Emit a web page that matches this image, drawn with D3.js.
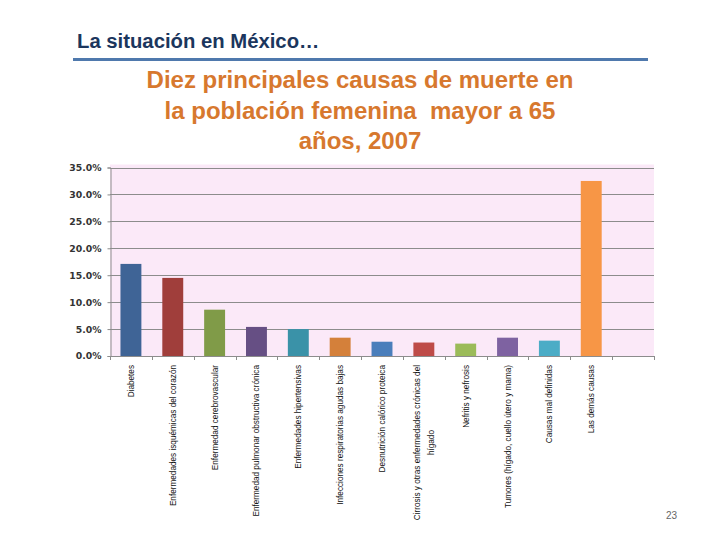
<!DOCTYPE html>
<html>
<head>
<meta charset="utf-8">
<script src="https://cdn.jsdelivr.net/npm/d3@7"></script>
<style>
  html, body { margin: 0; padding: 0; background: #ffffff; }
  svg { display: block; }
</style>
</head>
<body>
<svg id="chart" width="720" height="540"></svg>
<script>
// ---- data ----
const categories = [
  "Diabetes",
  "Enfermedades isquémicas del corazón",
  "Enfermedad cerebrovascular",
  "Enfermedad pulmonar obstructiva crónica",
  "Enfermedades hipertensivas",
  "Infecciones respiratorias agudas bajas",
  "Desnutrición calórico proteica",
  "Cirrosis y otras enfermedades crónicas del|hígado",
  "Nefritis y nefrosis",
  "Tumores (hígado, cuello útero y mama)",
  "Causas mal definidas",
  "Las demás causas",
  ""
];
const values = [0.171, 0.145, 0.086, 0.054, 0.050, 0.034, 0.0265, 0.025, 0.023, 0.034, 0.0285, 0.325, null];
const barColors = ["#3F6496", "#A03E3B", "#809B48", "#664F84", "#3A92A8", "#D4803A",
                   "#4A7EBB", "#BE4B48", "#9BBB59", "#7E62A1", "#4BACC6", "#F79646", "#ffffff"];
const yTicks = [0, 0.05, 0.10, 0.15, 0.20, 0.25, 0.30, 0.35];
const headerText = "La situación en México…";
const titleLines = ["Diez principales causas de muerte en", "la población femenina  mayor a 65", "años, 2007"];
const pageNumber = "23";

// ---- layout ----
const svg = d3.select("#chart");
const plot = { left: 110, right: 654, top: 167.5, bottom: 356 };

// header
svg.append("text")
  .attr("x", 77).attr("y", 48)
  .attr("font-family", "Liberation Sans, Arial, sans-serif")
  .attr("font-weight", "bold")
  .attr("font-size", 20.3)
  .attr("fill", "#1B365D")
  .text(headerText);

svg.append("rect")
  .attr("x", 73).attr("y", 58).attr("width", 575).attr("height", 3)
  .attr("fill", "#4F79AD");

// title
svg.append("g").selectAll("text").data(titleLines).join("text")
  .attr("x", 360)
  .attr("y", (d, i) => 88 + i * 30.5)
  .attr("text-anchor", "middle")
  .attr("font-family", "Liberation Sans, Arial, sans-serif")
  .attr("font-weight", "bold")
  .attr("font-size", 24)
  .attr("fill", "#D7782E")
  .style("white-space", "pre")
  .text(d => d);

// scales
const x = d3.scaleBand()
  .domain(d3.range(categories.length))
  .range([plot.left, plot.right])
  .paddingInner(0.5)
  .paddingOuter(0.25);
const y = d3.scaleLinear().domain([0, 0.35]).range([plot.bottom, plot.top]);

// plot background
svg.append("rect")
  .attr("x", plot.left).attr("y", plot.top - 3)
  .attr("width", plot.right - plot.left).attr("height", plot.bottom - plot.top + 3)
  .attr("fill", "#FBE9F8");

// gridlines
svg.append("g").selectAll("line").data(yTicks.slice(1)).join("line")
  .attr("x1", plot.left).attr("x2", plot.right)
  .attr("y1", d => Math.round(y(d)) + 0.5).attr("y2", d => Math.round(y(d)) + 0.5)
  .attr("stroke", "#8C8C8C").attr("stroke-width", 1);

// bars
svg.append("g").selectAll("rect")
  .data(values.map((v, i) => ({ v, i })).filter(d => d.v != null))
  .join("rect")
  .attr("x", d => x(d.i))
  .attr("width", x.bandwidth())
  .attr("y", d => y(d.v))
  .attr("height", d => y(0) - y(d.v))
  .attr("fill", d => barColors[d.i]);

// y axis
const yAxis = d3.axisLeft(y)
  .tickValues(yTicks)
  .tickFormat(d3.format(".1%"))
  .tickSize(3)
  .tickPadding(6);
const yg = svg.append("g")
  .attr("transform", `translate(${plot.left + 0.5},0)`)
  .call(yAxis);
yg.select(".domain").attr("stroke", "#8C8C8C");
yg.selectAll(".tick line").attr("stroke", "#8C8C8C");
yg.selectAll(".tick text")
  .attr("font-family", "DejaVu Sans, Verdana, sans-serif")
  .attr("font-size", 9.3)
  .attr("font-weight", "bold")
  .attr("fill", "#333333");

// x axis line + boundary ticks
svg.append("line")
  .attr("x1", plot.left).attr("x2", plot.right)
  .attr("y1", plot.bottom + 0.5).attr("y2", plot.bottom + 0.5)
  .attr("stroke", "#8C8C8C");
const step = x.step();
const boundaries = d3.range(categories.length + 1).map(i => x(i) !== undefined ? x(i) - step * 0.25 : x(categories.length - 1) + step * 0.75);
svg.append("g").selectAll("line").data(boundaries).join("line")
  .attr("x1", d => Math.round(d) + 0.5).attr("x2", d => Math.round(d) + 0.5)
  .attr("y1", plot.bottom).attr("y2", plot.bottom + 4)
  .attr("stroke", "#8C8C8C");

// category labels (rotated)
const lblG = svg.append("g");
categories.forEach((c, i) => {
  if (!c) return;
  const lines = c.split("|");
  const cx = x(i) + x.bandwidth() / 2;
  const lh = 13.5;
  const n = lines.length;
  const t = lblG.append("text")
    .attr("transform", `translate(${cx},${plot.bottom + 9}) rotate(-90)`)
    .attr("font-family", "Liberation Sans, Arial, sans-serif")
    .attr("font-size", 8.2)
    .attr("fill", "#111111")
    .attr("text-anchor", "end");
  if (n === 1) {
    t.append("tspan").attr("x", 0).attr("y", 3).text(lines[0]);
  } else {
    t.append("tspan").attr("x", 0).attr("y", 3 - (n - 1) * lh / 2).text(lines[0]);
    const w = t.node().getComputedTextLength();
    for (let k = 1; k < n; k++) {
      t.append("tspan").attr("x", -w / 2).attr("y", 3 - (n - 1) * lh / 2 + k * lh)
        .attr("text-anchor", "middle").text(lines[k]);
    }
  }
});

// page number
svg.append("text")
  .attr("x", 677).attr("y", 519)
  .attr("text-anchor", "end")
  .attr("font-family", "Liberation Sans, Arial, sans-serif")
  .attr("font-size", 10)
  .attr("fill", "#666666")
  .text(pageNumber);
</script>
</body>
</html>
